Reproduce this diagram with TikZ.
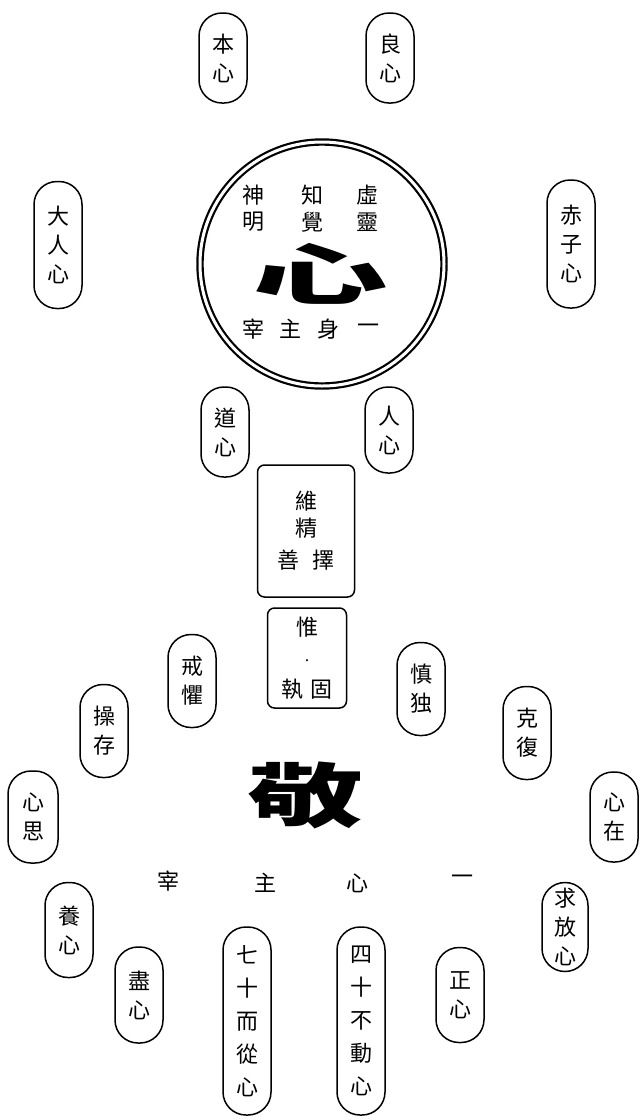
\documentclass[tikz,border=0pt]{standalone}
\usepackage{fontspec}
\newfontfamily\cjk{Noto Sans CJK TC}
\begin{document}
\begin{tikzpicture}[x=1pt,y=-1pt,
  pill/.style={draw, line width=1.5pt, rounded corners=23pt, minimum width=48pt,
    inner sep=0pt, align=center, font=\cjk\fontsize{22}{29}\selectfont},
  pilltall/.style={pill, font=\cjk\fontsize{22}{33}\selectfont},
  boxnode/.style={draw, line width=1.5pt, rounded corners=7pt, inner sep=0pt,
    align=center, font=\cjk\fontsize{22}{27}\selectfont},
  word/.style={inner sep=0pt, font=\cjk\fontsize{22}{22}\selectfont}]
\useasboundingbox (0,0) rectangle (640,1120);
\fill[white] (0,0) rectangle (640,1120);

% central circle
\node[circle, draw=black, line width=2.2pt, double=white, double distance=3pt,
  minimum size=244pt, inner sep=0pt] (heart) at (322,264) {};
\node[word] (shen) at (253,195) {神};
\node[word] (ming) at (253,222) {明};
\node[word] (zhi) at (312,195) {知};
\node[word] (jue) at (312,222) {覺};
\node[word] (xu) at (367,195) {虛};
\node[word] (ling) at (367,222) {靈};
\node[inner sep=0pt] (xin) at (320,274)
  {\scalebox{1.13}[0.55]{\cjk\bfseries\fontsize{120}{120}\selectfont 心}};
\node[word] (zai1) at (253,329) {宰};
\node[word] (zhu1) at (290,329) {主};
\node[word] (shen1) at (328,329) {身};
\node[word] (yi1) at (368,329) {一};

% top pills
\node[pill, minimum height=90pt] (benxin) at (223,58) {本\\心};
\node[pill, minimum height=90pt] (liangxin) at (390,58) {良\\心};
\node[pill, minimum height=127pt] (darenxin) at (58,245) {大\\人\\心};
\node[pill, minimum height=128pt] (chizixin) at (571,244) {赤\\子\\心};
\node[pill, minimum height=90pt] (daoxin) at (225,432) {道\\心};
\node[pill, minimum height=86pt] (renxin) at (389,430) {人\\心};

% boxes
\node[boxnode, minimum width=97pt, minimum height=132pt] (weijing) at (306,531)
  {維\\精\\[5pt]善\hspace{13pt}擇};
\node[boxnode, minimum width=79pt, minimum height=100pt] (weiyi) at (307,658)
  {惟\\[2pt]{\fontsize{10}{10}\selectfont ·}\\[6pt]執\hspace{8pt}固};

% middle pills
\node[pill, minimum height=93pt] (jieju) at (192,681) {戒\\懼};
\node[pill, minimum height=93pt] (shendu) at (421,689) {慎\\独};
\node[pill, minimum height=93pt] (caocun) at (104,731) {操\\存};
\node[pill, minimum height=92pt, minimum width=50pt] (xinsi) at (33,817) {心\\思};
\node[pill, minimum height=93pt] (kefu) at (527,733) {克\\復};
\node[pill, minimum height=90pt] (xinzai) at (614,817) {心\\在};

% jing
\node[inner sep=0pt] (jing) at (305,795)
  {\scalebox{1.45}[0.88]{\cjk\bfseries\fontsize{80}{80}\selectfont 敬}};
\node[word] (zai2) at (168,881) {宰};
\node[word] (zhu2) at (265,883) {主};
\node[word] (xin2) at (357,883) {心};
\node[word] (yi2) at (462,880) {一};

% bottom pills
\node[pill, minimum height=89pt, minimum width=46pt,
  font=\cjk\fontsize{22}{29}\selectfont] (qiufangxin) at (565,927) {求\\放\\心};
\node[pill, minimum height=95pt] (yangxin) at (69,930) {養\\心};
\node[pill, minimum height=96pt] (jinxin) at (139,995) {盡\\心};
\node[pilltall, minimum height=188pt] (qishi) at (247,1021) {七\\十\\而\\從\\心};
\node[pilltall, minimum height=188pt] (sishi) at (361,1021) {四\\十\\不\\動\\心};
\node[pill, minimum height=95pt] (zhengxin) at (460,995) {正\\心};
\end{tikzpicture}
\end{document}
